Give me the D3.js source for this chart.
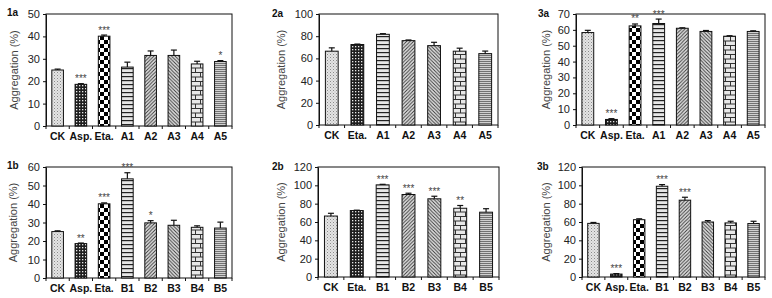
<!DOCTYPE html>
<html>
<head>
<meta charset="utf-8">
<script src="https://cdn.jsdelivr.net/npm/d3@7"></script>
<style>
  body { margin: 0; background: #fff; }
  svg { display: block; font-family: Arial, "Liberation Sans", sans-serif; }
  .sig { opacity: 0.99; }
</style>
</head>
<body>
<div id="chart"></div>
<script>
// ---- data ----
var cats1a = ['CK', 'Asp.', 'Eta.', 'A1', 'A2', 'A3', 'A4', 'A5'];
var vals1a = [25, 18.6, 40.1, 26.3, 31.5, 31.5, 27.7, 28.8];
var errs1a = [0.4, 0.3, 0.5, 2.2, 2.0, 2.4, 1.2, 0.4];
var sig1a = ['', '***', '***', '', '', '', '', '*'];
var ticks1a = [0, 10, 20, 30, 40, 50];

var cats2a = ['CK', 'Eta.', 'A1', 'A2', 'A3', 'A4', 'A5'];
var vals2a = [66.5, 72.5, 81.7, 76, 71.5, 66.5, 64.3];
var errs2a = [3, 0.4, 0.6, 0.6, 3, 2.7, 2.3];
var sig2a = ['', '', '', '', '', '', ''];
var ticks2a = [0, 20, 40, 60, 80, 100];

var cats3a = ['CK', 'Asp.', 'Eta.', 'A1', 'A2', 'A3', 'A4', 'A5'];
var vals3a = [58.3, 3.5, 62.5, 64, 61, 59, 56, 59];
var errs3a = [1.4, 0.5, 1.2, 2.8, 0.3, 0.6, 0.3, 0.4];
var sig3a = ['', '***', '**', '***', '', '', '', ''];
var ticks3a = [0, 10, 20, 30, 40, 50, 60, 70];

var cats1b = ['CK', 'Asp.', 'Eta.', 'B1', 'B2', 'B3', 'B4', 'B5'];
var vals1b = [25.1, 18.6, 40.1, 53.6, 29.8, 28.5, 27.4, 27];
var errs1b = [0.4, 0.3, 0.5, 3.3, 1.2, 2.7, 0.8, 3.2];
var sig1b = ['', '**', '***', '***', '*', '', '', ''];
var ticks1b = [0, 10, 20, 30, 40, 50, 60];

var cats2b = ['CK', 'Eta.', 'B1', 'B2', 'B3', 'B4', 'B5'];
var vals2b = [66.5, 72.5, 100.5, 90, 85.3, 75, 70.7];
var errs2b = [3, 0.4, 0.6, 1.4, 2.8, 3, 3.8];
var sig2b = ['', '', '***', '***', '***', '**', ''];
var ticks2b = [0, 20, 40, 60, 80, 100, 120];

var cats3b = ['CK', 'Asp.', 'Eta.', 'B1', 'B2', 'B3', 'B4', 'B5'];
var vals3b = [58.5, 3.2, 62.5, 99, 83.8, 60, 59, 58.3];
var errs3b = [1, 0.5, 1, 1.8, 3.2, 1.5, 1.8, 2.5];
var sig3b = ['', '***', '', '***', '***', '', '', ''];
var ticks3b = [0, 20, 40, 60, 80, 100, 120];

// fill patterns, by bar position (7 bar panels skip the big checker)
var fills8 = ['dots', 'smallcheck', 'bigcheck', 'hstripe', 'diagup', 'diagdown', 'brick', 'weave'];
var fills7 = ['dots', 'smallcheck', 'hstripe', 'diagup', 'diagdown', 'brick', 'weave'];

var panels = [
	{ name: '1a', cats: cats1a, vals: vals1a, errs: errs1a, sig: sig1a, ticks: ticks1a, x0: 46, x1: 232, y0: 14, y1: 126, lx: 7, ly: 16, tdx: 28 },
	{ name: '2a', cats: cats2a, vals: vals2a, errs: errs2a, sig: sig2a, ticks: ticks2a, x0: 319, x1: 498, y0: 14, y1: 125, lx: 272, ly: 17, tdx: 34 },
	{ name: '3a', cats: cats3a, vals: vals3a, errs: errs3a, sig: sig3a, ticks: ticks3a, x0: 576, x1: 765, y0: 14, y1: 125, lx: 538, ly: 17, tdx: 26 },
	{ name: '1b', cats: cats1b, vals: vals1b, errs: errs1b, sig: sig1b, ticks: ticks1b, x0: 46, x1: 232, y0: 167, y1: 278, lx: 7, ly: 169, tdx: 29 },
	{ name: '2b', cats: cats2b, vals: vals2b, errs: errs2b, sig: sig2b, ticks: ticks2b, x0: 318, x1: 499, y0: 167, y1: 277, lx: 272, ly: 170, tdx: 33 },
	{ name: '3b', cats: cats3b, vals: vals3b, errs: errs3b, sig: sig3b, ticks: ticks3b, x0: 582, x1: 765, y0: 167, y1: 277, lx: 537, ly: 170, tdx: 32 }
];

var width = 772,
	height = 298;

var svg = d3.select('#chart')
	.append('svg')
	.attr('width', width)
	.attr('height', height);

svg.append('rect').attr('width', width).attr('height', height).attr('fill', '#fff');

/***** patterns *****/
var defs = svg.append('defs');

function pattern(id, w, h, bg) {
	var p = defs.append('pattern')
		.attr('id', id)
		.attr('patternUnits', 'userSpaceOnUse')
		.attr('width', w)
		.attr('height', h);
	p.append('rect').attr('width', w).attr('height', h).attr('fill', bg);
	return p;
}

var p = pattern('dots', 3, 3, '#e4e4e4');
p.append('rect').attr('x', 0).attr('y', 0).attr('width', 1).attr('height', 1).attr('fill', '#8a8a8a');
p.append('rect').attr('x', 1.5).attr('y', 1.5).attr('width', 1).attr('height', 1).attr('fill', '#b0b0b0');

p = pattern('smallcheck', 3, 3, '#1e1e1e');
p.append('rect').attr('x', 1).attr('y', 1).attr('width', 1.3).attr('height', 1.3).attr('fill', '#e8e8e8');

p = pattern('bigcheck', 8, 8, '#fff');
p.append('rect').attr('x', 0).attr('y', 0).attr('width', 4).attr('height', 4).attr('fill', '#000');
p.append('rect').attr('x', 4).attr('y', 4).attr('width', 4).attr('height', 4).attr('fill', '#000');

p = pattern('hstripe', 4, 4, '#e6e6e6');
p.append('rect').attr('x', 0).attr('y', 0).attr('width', 4).attr('height', 1.2).attr('fill', '#222');

p = pattern('diagup', 3.5, 3.5, '#e2e2e2');
p.append('path').attr('d', 'M0,3.5L3.5,0M-1,1L1,-1M2.5,4.5L4.5,2.5').attr('stroke', '#333').attr('stroke-width', 0.9);

p = pattern('diagdown', 3.5, 3.5, '#e2e2e2');
p.append('path').attr('d', 'M0,0L3.5,3.5M-1,2.5L1,4.5M2.5,-1L4.5,1').attr('stroke', '#333').attr('stroke-width', 0.9);

p = pattern('brick', 10, 9, '#e8e8e8');
p.append('path').attr('d', 'M0,0.5H10M0,5H10M0.5,0.5V5M5.5,5V9').attr('stroke', '#333').attr('stroke-width', 1);

p = pattern('weave', 4, 4, '#d0d0d0');
p.append('path').attr('d', 'M0,2L1,1L2,2L3,1L4,2M0,4L1,3L2,4L3,3L4,4').attr('stroke', '#5a5a5a').attr('stroke-width', 0.8).attr('fill', 'none');

/***** panels *****/
panels.forEach(drawPanel);

function drawPanel(d) {
	var n = d.cats.length;
	var fills = n === 8 ? fills8 : fills7;

	var x = d3.scaleBand()
		.domain(d.cats)
		.range([d.x0, d.x1])
		.paddingInner(0.5)
		.paddingOuter(0.25);

	var y = d3.scaleLinear()
		.domain([0, d.ticks[d.ticks.length - 1]])
		.range([d.y1, d.y0]);

	var g = svg.append('g');

	// frame
	g.append('rect')
		.attr('x', d.x0)
		.attr('y', d.y0)
		.attr('width', d.x1 - d.x0)
		.attr('height', d.y1 - d.y0)
		.attr('fill', 'none')
		.attr('stroke', '#111')
		.attr('stroke-width', 1);

	// bars
	g.selectAll('.bar')
		.data(d.cats)
		.enter()
		.append('rect')
		.attr('class', 'bar')
		.attr('x', c => x(c))
		.attr('y', (c, i) => y(d.vals[i]))
		.attr('width', x.bandwidth())
		.attr('height', (c, i) => y(0) - y(d.vals[i]))
		.attr('fill', (c, i) => 'url(#' + fills[i] + ')')
		.attr('stroke', '#111')
		.attr('stroke-width', 1);

	// error bars (upper half only)
	var eb = g.selectAll('.err')
		.data(d.cats)
		.enter()
		.append('g')
		.attr('class', 'err')
		.attr('stroke', '#111')
		.attr('stroke-width', 1.2);

	eb.append('line')
		.attr('x1', c => x(c) + x.bandwidth() / 2)
		.attr('x2', c => x(c) + x.bandwidth() / 2)
		.attr('y1', (c, i) => y(d.vals[i]))
		.attr('y2', (c, i) => y(d.vals[i] + d.errs[i]));

	eb.append('line')
		.attr('x1', c => x(c) + x.bandwidth() / 2 - 3)
		.attr('x2', c => x(c) + x.bandwidth() / 2 + 3)
		.attr('y1', (c, i) => y(d.vals[i] + d.errs[i]))
		.attr('y2', (c, i) => y(d.vals[i] + d.errs[i]));

	// significance stars
	g.selectAll('.sig')
		.data(d.cats)
		.enter()
		.append('text')
		.attr('class', 'sig')
		.attr('x', c => x(c) + x.bandwidth() / 2)
		.attr('y', (c, i) => y(d.vals[i] + d.errs[i]) - 1.5)
		.attr('text-anchor', 'middle')
		.attr('font-size', 10)
		.attr('fill', '#444')
		.text((c, i) => d.sig[i]);

	// y axis
	var yAxis = d3.axisLeft(y)
		.tickValues(d.ticks)
		.tickSize(3)
		.tickPadding(3)
		.tickSizeOuter(0);

	var ya = g.append('g')
		.attr('transform', `translate(${d.x0},0)`)
		.call(yAxis);
	ya.select('.domain').attr('stroke', '#111');
	ya.selectAll('.tick line').attr('stroke', '#111');
	ya.selectAll('.tick text')
		.attr('font-size', 11)
		.attr('font-family', 'Arial, "Liberation Sans", sans-serif')
		.attr('fill', '#222');

	// x axis: ticks at band edges, bold labels
	var step = x.step();
	g.selectAll('.xtick')
		.data(d3.range(n + 1))
		.enter()
		.append('line')
		.attr('x1', i => d.x0 + i * step)
		.attr('x2', i => d.x0 + i * step)
		.attr('y1', d.y1)
		.attr('y2', d.y1 + 3)
		.attr('stroke', '#111');

	g.selectAll('.xlab')
		.data(d.cats)
		.enter()
		.append('text')
		.attr('x', c => x(c) + x.bandwidth() / 2)
		.attr('y', d.y1 + 14)
		.attr('text-anchor', 'middle')
		.attr('font-size', 10.5)
		.attr('font-weight', 'bold')
		.attr('fill', '#111')
		.text(c => c);

	// y title
	g.append('text')
		.attr('transform', `translate(${d.x0 - d.tdx},${(d.y0 + d.y1) / 2}) rotate(-90)`)
		.attr('text-anchor', 'middle')
		.attr('font-size', 11)
		.attr('fill', '#444')
		.text('Aggregation (%)');

	// panel label
	g.append('text')
		.attr('x', d.lx)
		.attr('y', d.ly)
		.attr('font-size', 10)
		.attr('font-weight', 'bold')
		.attr('fill', '#111')
		.text(d.name);
}
</script>
</body>
</html>
